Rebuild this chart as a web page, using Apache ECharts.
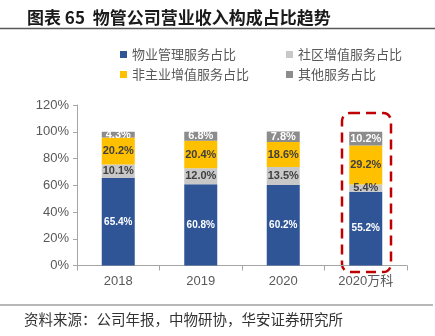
<!DOCTYPE html>
<html>
<head>
<meta charset="utf-8">
<script src="https://cdn.jsdelivr.net/npm/echarts@6/dist/echarts.min.js"></script>
<style>
  html, body { margin: 0; padding: 0; background: #fff; }
  #chart { width: 435px; height: 336px; }
</style>
</head>
<body>
<div id="chart"></div>
<script>
// 数据
const categories = ['2018', '2019', '2020', '2020万科'];
const seriesNames = ['物业管理服务占比', '社区增值服务占比', '非主业增值服务占比', '其他服务占比'];
const propertyMgmt = [65.4, 60.8, 60.2, 55.2];
const communityVA = [10.1, 12.0, 13.5, 5.4];
const nonOwnerVA = [20.2, 20.4, 18.6, 29.2];
const otherService = [4.3, 6.8, 7.8, 10.2];
const yTicks = [0, 20, 40, 60, 80, 100, 120];

const colors = ['#2F5597', '#C8C8C8', '#FFC000', '#8C8C8C'];
const labelColors = ['#fff', '#404040', '#404040', '#fff'];
const labelSizes = [10, 11, 11, 11];
const values = [propertyMgmt, communityVA, nonOwnerVA, otherService];

const FONT = '"Noto Sans CJK SC", sans-serif';

const chart = echarts.init(document.getElementById('chart'));

const series = values.map((vals, i) => ({
  name: seriesNames[i],
  type: 'bar',
  stack: 'total',
  barWidth: 33,
  data: vals,
  itemStyle: { color: colors[i] },
  label: {
    show: true,
    position: 'inside',
    formatter: (p) => p.value.toFixed(1) + '%',
    color: labelColors[i],
    fontSize: labelSizes[i],
    fontWeight: 'bold',
    fontFamily: 'Arial, "Liberation Sans", sans-serif'
  }
}));

const legendText = { color: '#595959', fontSize: 13, fontFamily: FONT };

const option = {
  animation: false,
  title: {
    text: '图表 65  物管公司营业收入构成占比趋势',
    left: 22,
    top: 4,
    textStyle: { fontSize: 17, fontWeight: 'bold', color: '#1a1a1a', fontFamily: FONT }
  },
  legend: [
    {
      data: [seriesNames[0], seriesNames[2]],
      orient: 'vertical',
      left: 115,
      top: 43,
      itemWidth: 7,
      itemHeight: 7,
      itemGap: 7,
      icon: 'rect',
      textStyle: legendText
    },
    {
      data: [seriesNames[1], seriesNames[3]],
      orient: 'vertical',
      left: 281,
      top: 43,
      itemWidth: 7,
      itemHeight: 7,
      itemGap: 7,
      icon: 'rect',
      textStyle: legendText
    }
  ],
  grid: { left: 77, right: 28, top: 105, bottom: 70.5 },
  xAxis: {
    type: 'category',
    data: categories,
    axisLine: { lineStyle: { color: '#A6A6A6' } },
    axisTick: { show: true, length: 5, lineStyle: { color: '#A6A6A6' } },
    axisLabel: { color: '#595959', fontSize: 13, margin: 9, fontFamily: 'Arial, "Liberation Sans", ' + FONT }
  },
  yAxis: {
    type: 'value',
    min: yTicks[0],
    max: yTicks[yTicks.length - 1],
    interval: 20,
    axisLine: { show: true, lineStyle: { color: '#A6A6A6' } },
    axisTick: { show: true, length: 4, lineStyle: { color: '#A6A6A6' } },
    splitLine: { show: false },
    axisLabel: { color: '#595959', fontSize: 13, margin: 8, formatter: '{value}%', fontFamily: 'Arial, "Liberation Sans", sans-serif' }
  },
  series: series,
  graphic: [
    { type: 'line', shape: { x1: 0, y1: 28.5, x2: 435, y2: 28.5 }, style: { stroke: '#595959', lineWidth: 1.5 } },
    { type: 'line', shape: { x1: 0, y1: 305, x2: 433, y2: 305 }, style: { stroke: '#A0A0A0', lineWidth: 1.5 } },
    {
      type: 'rect',
      shape: { x: 342, y: 113, width: 49, height: 159, r: 8 },
      style: { fill: 'none', stroke: '#C00000', lineWidth: 2.5, lineDash: [10, 6] }
    },
    {
      type: 'text',
      left: 24,
      top: 312,
      style: { text: '资料来源：公司年报，中物研协，华安证券研究所', fill: '#333', fontSize: 14.5, fontFamily: FONT }
    }
  ]
};

chart.setOption(option);
</script>
</body>
</html>
